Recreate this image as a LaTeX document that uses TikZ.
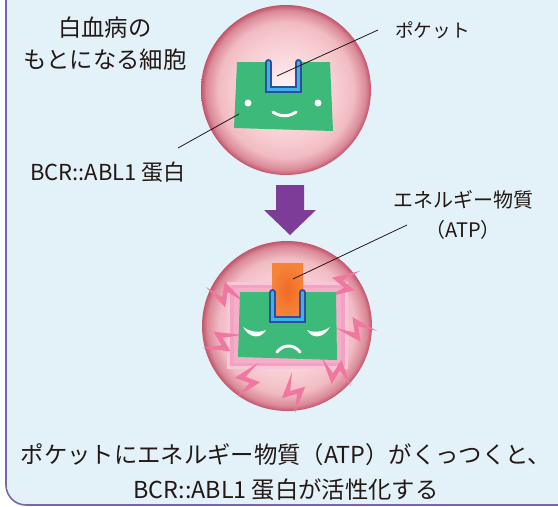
\documentclass[tikz,border=0pt]{standalone}
\usepackage{fontspec}
\setmainfont{Noto Sans CJK JP}
\usetikzlibrary{calc}

\definecolor{ink}{HTML}{231815}
\definecolor{panelfill}{HTML}{E3F2F9}
\definecolor{panelline}{HTML}{7E62AA}
\definecolor{cellcore}{HTML}{FFF7F8}
\definecolor{cellpink}{HTML}{F7C9CF}
\definecolor{cellrim}{HTML}{C2546A}
\definecolor{proteingreen}{HTML}{3DBA7A}
\definecolor{pocketdark}{HTML}{2C4F9F}
\definecolor{pocketlight}{HTML}{3EB1E6}
\definecolor{atporange}{HTML}{F26A25}
\definecolor{atplight}{HTML}{F5843A}
\definecolor{arrowpurple}{HTML}{7D3C98}
\definecolor{boltpink}{HTML}{F0779F}
\definecolor{glowA}{HTML}{F8C6D8}
\definecolor{glowB}{HTML}{F3A2C2}
\definecolor{glowC}{HTML}{F5AECA}

\pgfdeclareradialshading{cellshade}{\pgfpoint{0bp}{0bp}}{%
 color(0bp)=(cellcore); color(8bp)=(cellpink!55!cellcore); color(16bp)=(cellpink);
 color(20bp)=(cellpink!88!cellrim); color(23.5bp)=(cellpink!45!cellrim); color(25bp)=(cellrim);
 color(50bp)=(cellrim)}

\begin{document}
\begin{tikzpicture}[x=0.75pt,y=-0.75pt,
 lbl/.style={font=\fontsize{16.5pt}{20pt}\selectfont,text=ink,inner sep=0pt,align=center},
 leader/.style={draw=ink,line width=0.6pt},
 face/.style={draw=white,line width=2.2pt,line cap=round},
 bolt/.style={fill=boltpink},
 pics/pocket/.style={code={
  \draw[pocketdark,line width=5.25pt,line cap=round,line join=miter] (-15,-27) -- (-15,0) -- (15,0) -- (15,-27);
  \draw[pocketlight,line width=2.6pt,line cap=round,line join=miter] (-15,-27) -- (-15,0) -- (15,0) -- (15,-27);}}]
\useasboundingbox (0,0) rectangle (558,507);
\fill[white] (0,0) rectangle (558,507);
\begin{scope}
 \clip (0,0) rectangle (558,507);
 \draw[fill=panelfill,draw=panelline,line width=1.2pt,rounded corners=15pt] (6,-30) rectangle (600,505);
\end{scope}

% cells
\shade[shading=cellshade] (286,90) circle (85);
\shade[shading=cellshade] (287,326) circle (85);

% resting protein
\fill[proteingreen] (237,62) -- (268.5,62) -- (268.5,89.5) -- (298.5,89.5) -- (298.5,62)
 -- (330,62) -- (333,131) -- (234,128) -- cycle;
\pic at (283.5,89.5) {pocket};
\fill[white] (248,103) circle (3.5) (318,103) circle (3.5);
\draw[face] (273,112) .. controls (280,117) and (289,117) .. (296,112);

\fill[arrowpurple] (276,185) -- (304,185) -- (304,210) -- (316,210) -- (290,235)
 -- (264,210) -- (276,210) -- cycle;

% active protein
\fill[glowA] (227,282) rectangle (348,369);
\fill[glowB] (230,285) rectangle (345,366);
\fill[glowC] (234,288) rectangle (341,363);
\foreach \o/\i in {{206,287}/{244,302},{202,348}/{242,335},{237,397}/{258,363},
 {295,413}/{292,372},{351,386}/{322,358},{377,331}/{336,328},{360,271}/{327,297}} {
 \coordinate (bo) at (\o);
 \coordinate (bi) at (\i);
 \fill[bolt] (bo) -- ($(bo)!.62!(bi)!9pt!-90:(bi)$) -- ($(bo)!.54!(bi)!2.5pt!90:(bi)$)
  -- (bi) -- ($(bo)!.38!(bi)!9pt!90:(bi)$) -- ($(bo)!.46!(bi)!2.5pt!-90:(bi)$) -- cycle;
}
\fill[proteingreen] (240,292) -- (272.5,292) -- (272.5,319.5) -- (302.5,319.5) -- (302.5,292)
 -- (336,292) -- (337,360) -- (238,357) -- cycle;
\shade[inner color=atporange,outer color=atplight] (272,263) rectangle (303,318);
\pic at (287.5,319.5) {pocket};
\fill[white] (243,327) .. controls (250,339) and (261,339) .. (266,330)
 .. controls (259,333) and (250,332) .. cycle;
\fill[white] (330,327) .. controls (323,339) and (312,339) .. (307,330)
 .. controls (314,333) and (323,332) .. cycle;
\draw[face] (277,352) .. controls (283,344) and (294,344) .. (300,352);

% labels
\node[lbl,font=\fontsize{17.5pt}{24pt}\selectfont] (title) at (105,44) {白血病の\\もとになる細胞};
\node[lbl,anchor=west] (bcrlbl) at (30,172) {BCR::ABL1 蛋白};
\node[lbl,anchor=west,font=\fontsize{14pt}{18pt}\selectfont] (pocketlbl) at (395,30) {ポケット};
\node[lbl,font=\fontsize{15pt}{22.5pt}\selectfont] (atplbl) at (463,215) {エネルギー物質\\（ATP）};
\node[lbl,font=\fontsize{17.5pt}{26pt}\selectfont] (caption) at (286,472)
 {ポケットにエネルギー物質（ATP）がくっつくと、\\BCR::ABL1 蛋白が活性化する};

% leader lines
\coordinate (pocketpt) at (277,76);
\coordinate (pocketend) at ([xshift=-12.75pt]pocketlbl.west);
\coordinate (bcrpt) at (239,114);
\coordinate (bcrend) at (178,148);
\coordinate (atppt) at (293,279);
\coordinate (atpend) at (407,225);
\draw[leader] (pocketpt) -- (pocketend);
\draw[leader] (bcrpt) -- (bcrend);
\draw[leader] (atppt) -- (atpend);
\end{tikzpicture}
\end{document}
